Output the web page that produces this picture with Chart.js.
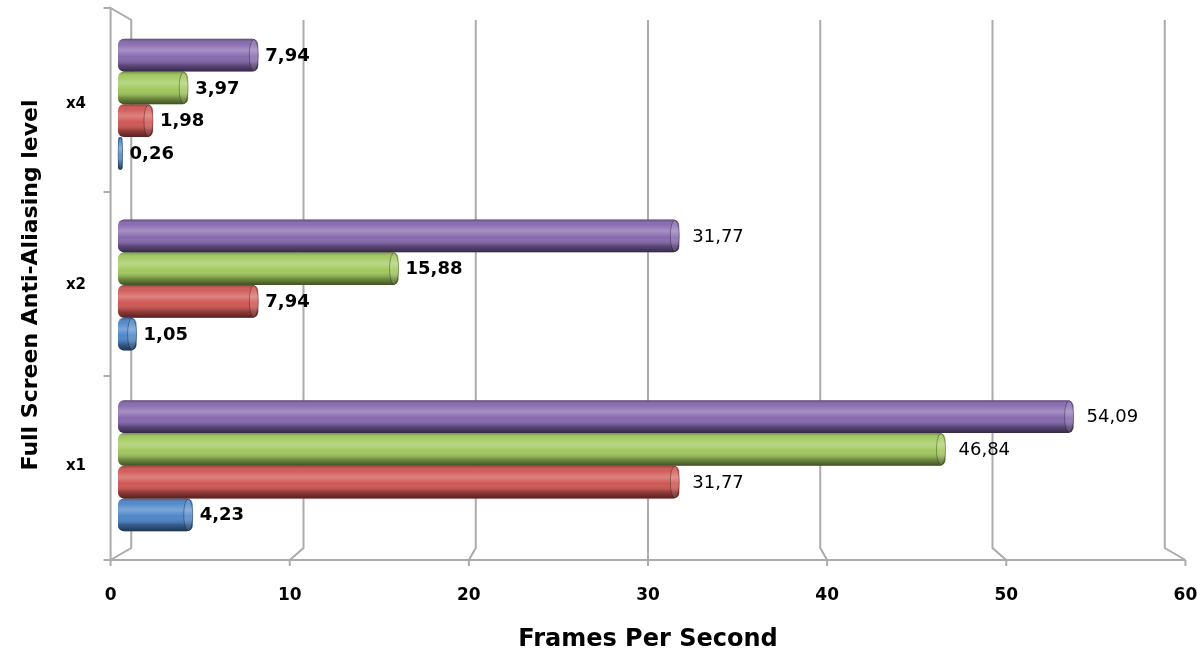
<!DOCTYPE html>
<html>
<head>
<meta charset="utf-8">
<style>
  html, body { margin: 0; padding: 0; background: #ffffff; }
  #wrap { width: 1197px; height: 654px; }
</style>
<script src="https://cdn.jsdelivr.net/npm/chart.js@4.4.1/dist/chart.umd.min.js"></script>
</head>
<body>
<div id="wrap"><canvas id="fpsChart"></canvas></div>
<script>
// values (top category first)
const levels = ["x4", "x2", "x1"];
const blueSeries = [0.26, 1.05, 4.23];
const redSeries = [1.98, 7.94, 31.77];
const greenSeries = [3.97, 15.88, 46.84];
const purpleSeries = [7.94, 31.77, 54.09];
const xTicks = [0, 10, 20, 30, 40, 50, 60];

const palette = {
  blue: "#4a83c8",
  red: "#cf5350",
  green: "#9fc75a",
  purple: "#8466ad",
  wall: "#ababab",
  text: "#000000"
};

const fontFamily = "'DejaVu Sans', sans-serif";

// fake depth: front edge a bit wider than the bar plane, back wall a bit narrower
function depthHelpers(chart) {
  const x = chart.scales.x;
  const mid = (x.left + x.right) / 2;
  return {
    front: (v) => mid + (x.getPixelForValue(v) - mid) * 1.014,
    back: (v) => mid + (x.getPixelForValue(v) - mid) * 0.975
  };
}

const wallPlugin = {
  id: "walls",
  beforeDatasetsDraw(chart) {
    const { ctx, chartArea } = chart;
    const { front, back } = depthHelpers(chart);
    const floorY = chartArea.bottom + 4;
    const backFloorY = chartArea.bottom - 8;
    const topY = chartArea.top - 6;
    const backTopY = chartArea.top + 6;
    const first = xTicks[0];
    const last = xTicks[xTicks.length - 1];

    ctx.save();
    ctx.strokeStyle = palette.wall;
    ctx.lineWidth = 2;
    ctx.beginPath();
    ctx.moveTo(front(first), floorY);
    ctx.lineTo(front(first), topY);
    ctx.lineTo(back(first), backTopY);
    ctx.lineTo(back(first), backFloorY);
    ctx.lineTo(front(first), floorY);
    ctx.lineTo(front(last), floorY);

    xTicks.forEach((v) => {
      if (v !== first) {
        ctx.moveTo(back(v), backTopY);
        ctx.lineTo(back(v), backFloorY);
        ctx.lineTo(front(v), floorY);
      }
      ctx.moveTo(front(v), floorY);
      ctx.lineTo(front(v), floorY + 6);
    });

    const band = (floorY - topY) / levels.length;
    for (let i = 0; i <= levels.length; i++) {
      const y = topY + band * i;
      ctx.moveTo(front(first) - 7, y);
      ctx.lineTo(front(first), y);
    }
    ctx.stroke();

    ctx.fillStyle = palette.text;
    ctx.font = "bold 17px " + fontFamily;
    ctx.textAlign = "center";
    ctx.textBaseline = "middle";
    xTicks.forEach((v) => {
      ctx.fillText(String(v), front(v), floorY + 36);
    });
    ctx.restore();
  }
};

const cylinderPlugin = {
  id: "cylinders",
  afterDatasetsDraw(chart) {
    const { ctx } = chart;
    ctx.save();
    chart.data.datasets.forEach((dataset, di) => {
      const meta = chart.getDatasetMeta(di);
      meta.data.forEach((bar, i) => {
        const { x, y, base, height } = bar.getProps(["x", "y", "base", "height"], true);
        const top = y - height / 2;
        const width = x - base;
        const r = Math.min(6, width / 2, height / 2);

        const shade = ctx.createLinearGradient(0, top, 0, top + height);
        shade.addColorStop(0, "rgba(0,0,0,0.30)");
        shade.addColorStop(0.15, "rgba(255,255,255,0.05)");
        shade.addColorStop(0.35, "rgba(255,255,255,0.28)");
        shade.addColorStop(0.55, "rgba(255,255,255,0.02)");
        shade.addColorStop(0.8, "rgba(0,0,0,0.28)");
        shade.addColorStop(1, "rgba(0,0,0,0.60)");

        ctx.beginPath();
        if (ctx.roundRect) {
          ctx.roundRect(base, top, width, height, r);
        } else {
          ctx.rect(base, top, width, height);
        }
        ctx.fillStyle = shade;
        ctx.fill();

        // end cap of the cylinder
        const rx = Math.min(4.5, width / 2);
        ctx.beginPath();
        ctx.ellipse(x - rx, y, rx, height / 2 - 0.5, 0, 0, Math.PI * 2);
        ctx.fillStyle = dataset.backgroundColor;
        ctx.fill();
        ctx.fillStyle = shade;
        ctx.fill();
        ctx.fillStyle = "rgba(255,255,255,0.12)";
        ctx.fill();
        ctx.strokeStyle = "rgba(0,0,0,0.3)";
        ctx.lineWidth = 1;
        ctx.stroke();

        // value label
        const value = dataset.data[i];
        const small = value < 20;
        ctx.font = (small ? "bold " : "") + "18px " + fontFamily;
        ctx.fillStyle = palette.text;
        ctx.textAlign = "left";
        ctx.textBaseline = "middle";
        ctx.fillText(value.toFixed(2).replace(".", ","), x + (small ? 7 : 13), y + 1);
      });
    });
    ctx.restore();
  }
};

function makeDataset(label, values, color) {
  return {
    label: label,
    data: values,
    backgroundColor: color,
    borderWidth: 0,
    borderSkipped: false,
    borderRadius: 6,
    barPercentage: 1,
    categoryPercentage: 0.725
  };
}

new Chart(document.querySelector("#fpsChart"), {
  type: "bar",
  data: {
    labels: levels,
    datasets: [
      makeDataset("Series 4", purpleSeries, palette.purple),
      makeDataset("Series 3", greenSeries, palette.green),
      makeDataset("Series 2", redSeries, palette.red),
      makeDataset("Series 1", blueSeries, palette.blue)
    ]
  },
  options: {
    indexAxis: "y",
    responsive: true,
    maintainAspectRatio: false,
    animation: false,
    layout: { padding: { top: 14, right: 19, bottom: 0, left: 0 } },
    plugins: {
      legend: { display: false },
      tooltip: { enabled: false }
    },
    scales: {
      x: {
        min: xTicks[0],
        max: xTicks[xTicks.length - 1],
        afterBuildTicks: (scale) => {
          scale.ticks = xTicks.map((v) => ({ value: v }));
        },
        afterFit: (scale) => {
          scale.height = 98;
          scale.paddingLeft = 0;
          scale.paddingRight = 0;
        },
        ticks: { display: false },
        grid: { display: false },
        border: { display: false },
        title: {
          display: true,
          text: "Frames Per Second",
          color: palette.text,
          font: { family: fontFamily, size: 24, weight: "bold" },
          padding: { top: 0, bottom: 0 }
        }
      },
      y: {
        afterFit: (scale) => {
          scale.width = 118;
          scale.paddingTop = 0;
          scale.paddingBottom = 0;
        },
        ticks: {
          color: palette.text,
          padding: 32,
          font: { family: fontFamily, size: 15, weight: "bold" }
        },
        grid: { display: false, drawTicks: false },
        border: { display: false },
        title: {
          display: true,
          text: "Full Screen Anti-Aliasing level",
          color: palette.text,
          font: { family: fontFamily, size: 22, weight: "bold" },
          padding: { top: 18, bottom: 0 }
        }
      }
    }
  },
  plugins: [wallPlugin, cylinderPlugin]
});
</script>
</body>
</html>
